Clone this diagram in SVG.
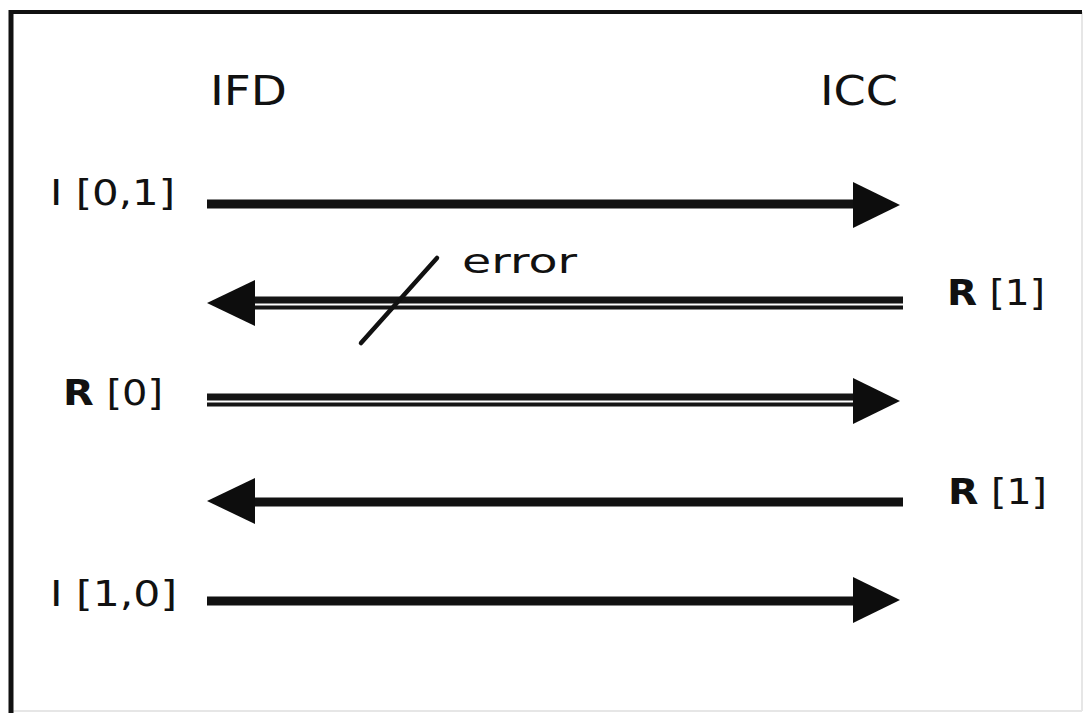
<svg xmlns="http://www.w3.org/2000/svg" xmlns:xlink="http://www.w3.org/1999/xlink" width="1084" height="715" viewBox="0 0 1084 715">
  <style>
    .lbl { font-family: "DejaVu Sans", "Liberation Sans", sans-serif; fill: #111; }
    .hdr { font-size: 40px; }
    .msg { font-size: 36px; }
    .b { font-weight: bold; }
    .solid { stroke: #111; stroke-width: 9; fill: none; }
    .thick { stroke: #151515; stroke-width: 7; fill: none; }
    .thin { stroke: #151515; stroke-width: 4; fill: none; }
    .head { fill: #0d0d0d; }
  </style>
  <defs>
    <!-- arrowheads: origin at the base centre -->
    <path id="headR" d="M0,-23 L47,0 L0,23 Z"/>
    <path id="headL" d="M0,-23 L-48,0 L0,23 Z"/>
  </defs>

  <rect width="1084" height="715" fill="#fff"/>

  <!-- frame -->
  <g id="frame">
    <line x1="1082" y1="12" x2="1082" y2="711" stroke="#e6e6e6" stroke-width="2"/>
    <line x1="11" y1="711" x2="1082" y2="711" stroke="#e6e6e6" stroke-width="2"/>
    <line x1="9" y1="12" x2="1082" y2="12" stroke="#111" stroke-width="4"/>
    <line x1="11" y1="10" x2="11" y2="713" stroke="#111" stroke-width="5"/>
  </g>

  <!-- parties -->
  <g id="ifd"><text class="lbl hdr" x="210" y="105" textLength="77" lengthAdjust="spacingAndGlyphs">IFD</text></g>
  <g id="icc"><text class="lbl hdr" x="820" y="105" textLength="78" lengthAdjust="spacingAndGlyphs">ICC</text></g>

  <!-- block labels -->
  <g id="blk-i01"><text class="lbl msg" x="50" y="205" textLength="125" lengthAdjust="spacingAndGlyphs">I [0,1]</text></g>
  <g id="blk-r1a"><text class="lbl msg" x="947" y="305" textLength="98" lengthAdjust="spacingAndGlyphs"><tspan class="b">R</tspan> [1]</text></g>
  <g id="blk-r0"><text class="lbl msg" x="63" y="405" textLength="100" lengthAdjust="spacingAndGlyphs"><tspan class="b">R</tspan> [0]</text></g>
  <g id="blk-r1b"><text class="lbl msg" x="948" y="504" textLength="99" lengthAdjust="spacingAndGlyphs"><tspan class="b">R</tspan> [1]</text></g>
  <g id="blk-i10"><text class="lbl msg" x="50" y="606" textLength="127" lengthAdjust="spacingAndGlyphs">I [1,0]</text></g>

  <!-- message arrows -->
  <g id="connectors">
    <!-- I [0,1] : IFD -> ICC -->
    <line class="solid" x1="207" y1="204" x2="855" y2="204"/>
    <use xlink:href="#headR" class="head" x="853" y="205"/>

    <!-- R [1] : ICC -> IFD, corrupted -->
    <line class="thick" x1="253" y1="300" x2="903" y2="300"/>
    <line class="thin" x1="253" y1="307.5" x2="903" y2="307.5"/>
    <use xlink:href="#headL" class="head" x="255" y="303"/>
    <line x1="361" y1="343" x2="437" y2="258" stroke="#111" stroke-width="4.5" stroke-linecap="round"/>
    <text class="lbl" x="462" y="273" font-size="34" textLength="115" lengthAdjust="spacingAndGlyphs">error</text>

    <!-- R [0] : IFD -> ICC -->
    <line class="thick" x1="207" y1="397" x2="855" y2="397"/>
    <line class="thin" x1="207" y1="404.5" x2="855" y2="404.5"/>
    <use xlink:href="#headR" class="head" x="853" y="401"/>

    <!-- R [1] : ICC -> IFD -->
    <line class="solid" x1="253" y1="502" x2="903" y2="502"/>
    <use xlink:href="#headL" class="head" x="255" y="501"/>

    <!-- I [1,0] : IFD -> ICC -->
    <line class="solid" x1="207" y1="601" x2="855" y2="601"/>
    <use xlink:href="#headR" class="head" x="853" y="600"/>
  </g>
</svg>
